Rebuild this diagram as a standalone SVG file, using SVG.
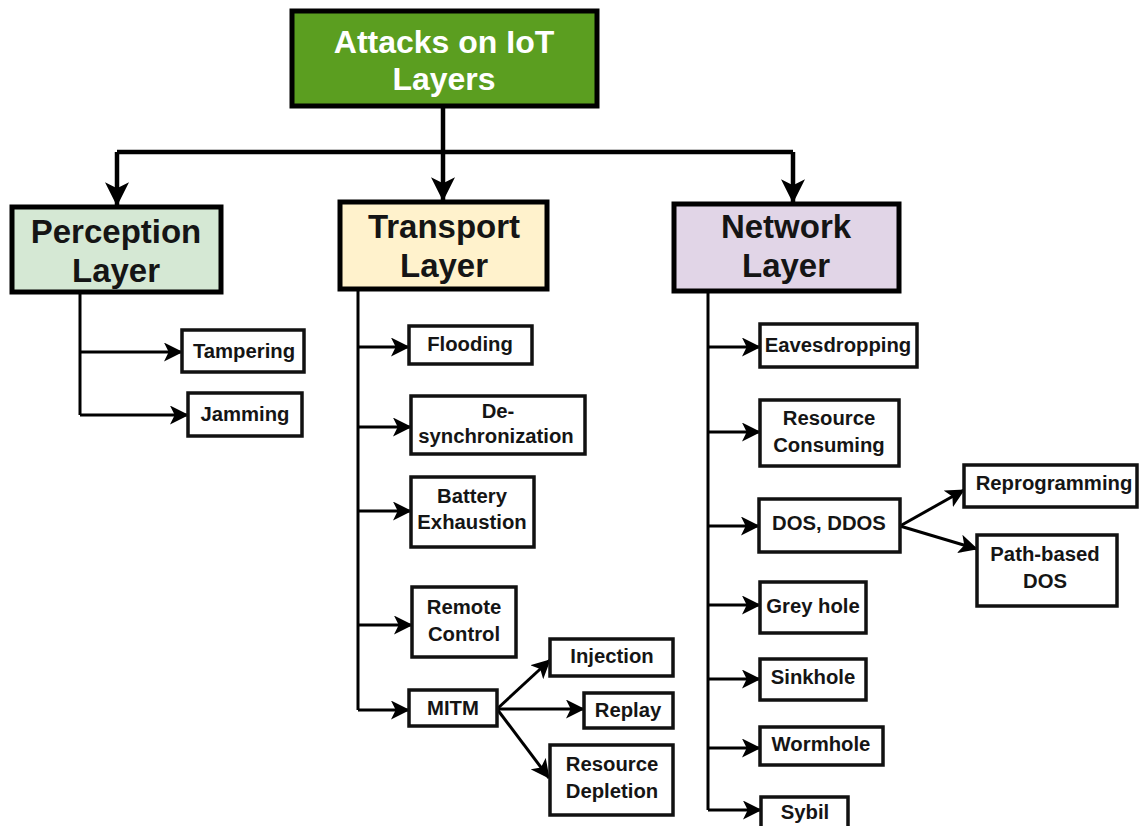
<svg xmlns="http://www.w3.org/2000/svg" width="1140" height="826" viewBox="0 0 1140 826">
<style>
.main{stroke:#000;stroke-width:5}
.box{fill:#fff;stroke:#111;stroke-width:3.5}
.t{font-family:"Liberation Sans",Arial,sans-serif;font-weight:bold;text-anchor:middle;fill:#151515}
.c{font-size:20.3px}
.l{font-size:33px}
.r{font-size:32px;fill:#fff}
.con{fill:none;stroke:#000;stroke-width:3}
.conm{fill:none;stroke:#000;stroke-width:4.5}
</style>
<defs>
<marker id="big" viewBox="0 0 20 20" refX="19" refY="10" markerUnits="userSpaceOnUse" markerWidth="24" markerHeight="24" orient="auto">
<path d="M0,0 L20,10 L0,20 L5,10 z" fill="#000"/>
</marker>
<marker id="sm" viewBox="0 0 20 20" refX="19" refY="10" markerUnits="userSpaceOnUse" markerWidth="19" markerHeight="19" orient="auto">
<path d="M0,0 L20,10 L0,20 L5,10 z" fill="#000"/>
</marker>
</defs>
<rect width="1140" height="826" fill="#fff"/>

<g id="connectors">
<path class="conm" d="M443,107 V152"/>
<path class="conm" d="M117,152 H793"/>
<path class="conm" d="M117,152 V205" marker-end="url(#big)"/>
<path class="conm" d="M443,152 V200" marker-end="url(#big)"/>
<path class="conm" d="M793,152 V202" marker-end="url(#big)"/>
<path class="con" d="M80,293 V415"/>
<path class="con" d="M80,352 H182" marker-end="url(#sm)"/>
<path class="con" d="M80,415 H188" marker-end="url(#sm)"/>
<path class="con" d="M358,290 V710"/>
<path class="con" d="M358,347 H409" marker-end="url(#sm)"/>
<path class="con" d="M358,427 H411" marker-end="url(#sm)"/>
<path class="con" d="M358,511 H411" marker-end="url(#sm)"/>
<path class="con" d="M358,625 H412" marker-end="url(#sm)"/>
<path class="con" d="M358,710 H409" marker-end="url(#sm)"/>
<path class="con" d="M497,709 L550,660" marker-end="url(#sm)"/>
<path class="con" d="M497,709 H584" marker-end="url(#sm)"/>
<path class="con" d="M497,709 L549,778" marker-end="url(#sm)"/>
<path class="con" d="M708,292 V810"/>
<path class="con" d="M708,347 H760" marker-end="url(#sm)"/>
<path class="con" d="M708,432 H760" marker-end="url(#sm)"/>
<path class="con" d="M708,526 H759" marker-end="url(#sm)"/>
<path class="con" d="M708,605 H760" marker-end="url(#sm)"/>
<path class="con" d="M708,679 H760" marker-end="url(#sm)"/>
<path class="con" d="M708,748 H760" marker-end="url(#sm)"/>
<path class="con" d="M708,810 H761" marker-end="url(#sm)"/>
<path class="con" d="M900,526 L964,490" marker-end="url(#sm)"/>
<path class="con" d="M900,526 L977,549" marker-end="url(#sm)"/>
</g>

<g id="root">
<rect x="292" y="11" width="305" height="95" fill="#5b9e20" stroke="#000" stroke-width="5"/>
<text class="t r" x="444" y="53">Attacks on IoT</text>
<text class="t r" x="444" y="90">Layers</text>
</g>

<g id="perception">
<rect x="12" y="207" width="209" height="85" fill="#d5e8d4" stroke="#000" stroke-width="5"/>
<text class="t l" x="116" y="243">Perception</text>
<text class="t l" x="116" y="282">Layer</text>
</g>
<g id="transport">
<rect x="340" y="202" width="207" height="87" fill="#fff2cc" stroke="#000" stroke-width="5"/>
<text class="t l" x="444" y="238">Transport</text>
<text class="t l" x="444" y="277">Layer</text>
</g>
<g id="network">
<rect x="674" y="204" width="225" height="87" fill="#e1d5e7" stroke="#000" stroke-width="5"/>
<text class="t l" x="786" y="238">Network</text>
<text class="t l" x="786" y="277">Layer</text>
</g>

<g id="tampering"><rect class="box" x="182" y="330" width="122" height="42"/><text class="t c" x="244" y="358">Tampering</text></g>
<g id="jamming"><rect class="box" x="188" y="393" width="114" height="43"/><text class="t c" x="245" y="421">Jamming</text></g>

<g id="flooding"><rect class="box" x="409" y="326" width="123" height="38"/><text class="t c" x="470" y="351">Flooding</text></g>
<g id="desync"><rect class="box" x="411" y="396" width="174" height="58"/><text class="t c" x="498" y="418">De-</text><text class="t c" x="496" y="443">synchronization</text></g>
<g id="battery"><rect class="box" x="411" y="477" width="123" height="70"/><text class="t c" x="472" y="503">Battery</text><text class="t c" x="472" y="529">Exhaustion</text></g>
<g id="remote"><rect class="box" x="412" y="587" width="104" height="70"/><text class="t c" x="464" y="614">Remote</text><text class="t c" x="464" y="641">Control</text></g>
<g id="mitm"><rect class="box" x="409" y="690" width="88" height="36"/><text class="t c" x="453" y="715">MITM</text></g>
<g id="injection"><rect class="box" x="550" y="639" width="123" height="37"/><text class="t c" x="612" y="663">Injection</text></g>
<g id="replay"><rect class="box" x="584" y="693" width="89" height="35"/><text class="t c" x="628" y="717">Replay</text></g>
<g id="depletion"><rect class="box" x="550" y="745" width="123" height="70"/><text class="t c" x="612" y="771">Resource</text><text class="t c" x="612" y="798">Depletion</text></g>

<g id="eavesdropping"><rect class="box" x="760" y="324" width="157" height="43"/><text class="t c" x="838" y="352">Eavesdropping</text></g>
<g id="consuming"><rect class="box" x="760" y="400" width="139" height="66"/><text class="t c" x="829" y="425">Resource</text><text class="t c" x="829" y="452">Consuming</text></g>
<g id="dos"><rect class="box" x="759" y="499" width="141" height="53"/><text class="t c" x="829" y="530">DOS, DDOS</text></g>
<g id="reprogramming"><rect class="box" x="964" y="465" width="173" height="42"/><text class="t c" x="1054" y="490">Reprogramming</text></g>
<g id="pathdos"><rect class="box" x="977" y="535" width="140" height="71"/><text class="t c" x="1045" y="561">Path-based</text><text class="t c" x="1045" y="588">DOS</text></g>
<g id="greyhole"><rect class="box" x="760" y="582" width="106" height="51"/><text class="t c" x="813" y="613">Grey hole</text></g>
<g id="sinkhole"><rect class="box" x="760" y="659" width="106" height="41"/><text class="t c" x="813" y="684">Sinkhole</text></g>
<g id="wormhole"><rect class="box" x="760" y="727" width="123" height="38"/><text class="t c" x="821" y="751">Wormhole</text></g>
<g id="sybil"><rect class="box" x="761" y="797" width="87" height="40"/><text class="t c" x="805" y="819">Sybil</text></g>
</svg>
